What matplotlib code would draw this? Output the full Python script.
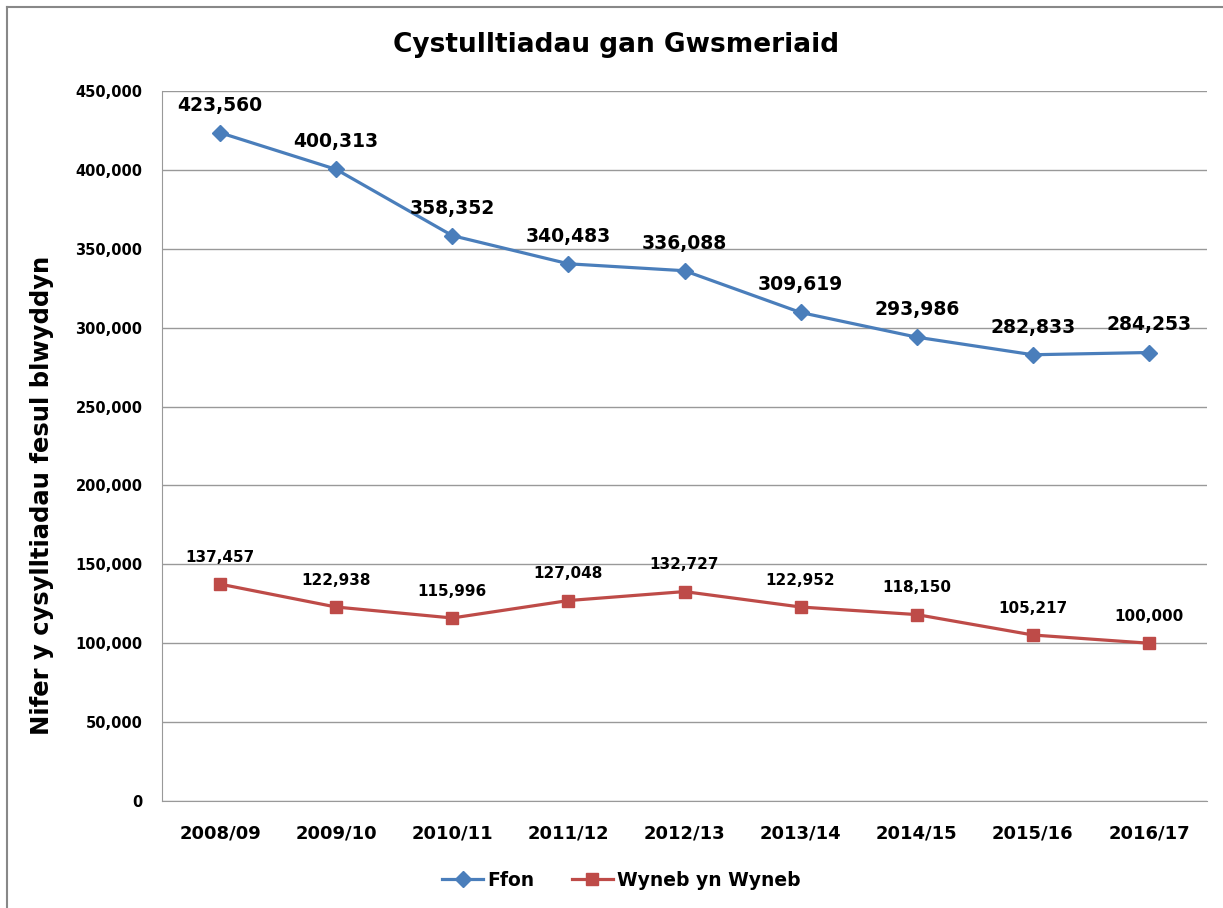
import matplotlib.pyplot as plt
from matplotlib.lines import Line2D
from matplotlib.ticker import FuncFormatter

years = ['2008/09', '2009/10', '2010/11', '2011/12', '2012/13',
         '2013/14', '2014/15', '2015/16', '2016/17']
ffon = [423560, 400313, 358352, 340483, 336088, 309619, 293986, 282833, 284253]
wyneb = [137457, 122938, 115996, 127048, 132727, 122952, 118150, 105217, 100000]
y_ticks = [0, 50000, 100000, 150000, 200000, 250000, 300000, 350000, 400000, 450000]

blue = '#4A7EBB'
red = '#BE4B48'

fig = plt.figure(figsize=(12.23, 9.08), dpi=100)
ax = fig.add_axes([162 / 1223, 1 - 801 / 908, (1207 - 162) / 1223, (801 - 91) / 908])

x = list(range(len(years)))
ax.plot(x, ffon, color=blue, lw=2.3, marker='D', ms=8, label='Ffon')
ax.plot(x, wyneb, color=red, lw=2.3, marker='s', ms=9, label='Wyneb yn Wyneb')

# data labels
for i, v in enumerate(ffon):
    ax.annotate(f'{v:,}', (i, v), xytext=(0, 13), textcoords='offset points',
                ha='center', va='bottom', fontsize=13.5, fontweight='bold')
for i, v in enumerate(wyneb):
    ax.annotate(f'{v:,}', (i, v), xytext=(0, 14), textcoords='offset points',
                ha='center', va='bottom', fontsize=11, fontweight='bold')

ax.set_xlim(-0.5, len(years) - 0.5)
ax.set_ylim(0, 450000)
ax.set_yticks(y_ticks)
ax.yaxis.set_major_formatter(FuncFormatter(lambda v, p: f'{int(v):,}'))
ax.set_xticks(x)
ax.set_xticklabels(years, fontsize=13, fontweight='bold')
for lab in ax.get_yticklabels():
    lab.set_fontsize(10.5)
    lab.set_fontweight('bold')
ax.tick_params(length=0)
ax.tick_params(axis='y', pad=14)
ax.tick_params(axis='x', pad=17)

ax.grid(axis='y', color='#999999', lw=1)
ax.set_axisbelow(True)
for s in ['right', 'top']:
    ax.spines[s].set_visible(False)
for s in ['left', 'bottom']:
    ax.spines[s].set_color('#999999')

ax.set_ylabel('Nifer y cysylltiadau fesul blwyddyn', fontsize=17.5, fontweight='bold')
ax.yaxis.set_label_coords(-0.103, 0.43)

fig.text(0.504, 1 - 45 / 908, 'Cystulltiadau gan Gwsmeriaid', ha='center', va='center',
         fontsize=19, fontweight='bold')

fig.legend(loc='center', bbox_to_anchor=(0.508, 1 - 880 / 908), ncol=2, frameon=False,
           prop={'size': 13.5, 'weight': 'bold'}, handlelength=2.2, handletextpad=0.2,
           columnspacing=2)

# outer chart border (left & top only visible)
fig.add_artist(Line2D([7 / 1223, 7 / 1223], [0, 1 - 7 / 908], color='#888888', lw=1.5))
fig.add_artist(Line2D([7 / 1223, 1], [1 - 7 / 908, 1 - 7 / 908], color='#888888', lw=1.5))

plt.savefig('out.png', dpi=100)
plt.close(fig)
